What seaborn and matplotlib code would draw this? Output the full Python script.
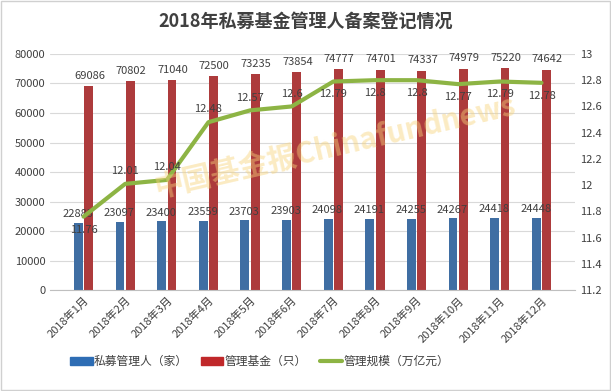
import numpy as np
import pandas as pd
import matplotlib
matplotlib.use("Agg")
import matplotlib.pyplot as plt
import seaborn as sns

months = ['2018年1月', '2018年2月', '2018年3月', '2018年4月', '2018年5月', '2018年6月',
          '2018年7月', '2018年8月', '2018年9月', '2018年10月', '2018年11月', '2018年12月']
managers = [22883, 23097, 23400, 23559, 23703, 23903, 24098, 24191, 24255, 24267, 24418, 24448]
funds = [69086, 70802, 71040, 72500, 73235, 73854, 74777, 74701, 74337, 74979, 75220, 74642]
scale = [11.76, 12.01, 12.04, 12.48, 12.57, 12.6, 12.79, 12.8, 12.8, 12.77, 12.79, 12.78]
# label above (1) or below (-1) the line point
scale_pos = [-1, 1, 1, 1, 1, 1, -1, -1, -1, -1, -1, -1]

sns.set_style("white")
plt.rcParams['font.family'] = ['Noto Sans CJK SC', 'DejaVu Sans']
txt = '#404040'

df = pd.DataFrame({
    'month': months * 2,
    'value': managers + funds,
    'series': ['私募管理人（家）'] * 12 + ['管理基金（只）'] * 12,
})

fig = plt.figure(figsize=(6.11, 3.91), dpi=100)
ax = fig.add_axes([0.082, 0.258, 0.859, 0.604])

sns.barplot(data=df, x='month', y='value', hue='series',
            palette=['#2e6db4', '#c0282a'], width=0.5, gap=0.15,
            edgecolor='none', ax=ax, legend=False)

ax.set_ylim(0, 80000)
ax.set_yticks(np.arange(0, 80001, 10000))
ax.yaxis.grid(True, color='#d9d9d9', linewidth=0.8)
ax.set_axisbelow(True)
ax.set_xlabel('')
ax.set_ylabel('')
for s in ['top', 'right', 'left']:
    ax.spines[s].set_visible(False)
ax.spines['bottom'].set_color('#bfbfbf')
ax.tick_params(axis='y', labelsize=8, colors=txt, length=0)
ax.tick_params(axis='x', labelsize=8, colors=txt, length=3, color='#bfbfbf')
ax.set_xticks(np.arange(-0.5, 12, 1), minor=True)
ax.tick_params(axis='x', which='major', length=0)
ax.tick_params(axis='x', which='minor', length=4, color='#bfbfbf')
plt.setp(ax.get_xticklabels(), rotation=45, ha='right', rotation_mode='anchor')

for i in range(12):
    ax.text(i - 0.14, managers[i] + 1200, str(managers[i]), ha='center',
            va='bottom', fontsize=8, color=txt)
    ax.text(i + 0.14, funds[i] + 1800, str(funds[i]), ha='center',
            va='bottom', fontsize=8, color=txt)

ax2 = ax.twinx()
sns.lineplot(x=np.arange(12), y=scale, color='#8db444', linewidth=3, ax=ax2)
ax2.set_ylim(11.2, 13)
ax2.set_yticks(np.round(np.arange(11.2, 13.01, 0.2), 1))
ax2.set_yticklabels(['11.2', '11.4', '11.6', '11.8', '12', '12.2', '12.4',
                     '12.6', '12.8', '13'])
ax2.tick_params(axis='y', labelsize=8, colors=txt, length=0)
for s in ['top', 'right', 'left', 'bottom']:
    ax2.spines[s].set_visible(False)
for i in range(12):
    off = 0.06 if scale_pos[i] > 0 else -0.06
    ax2.text(i, scale[i] + off, f'{scale[i]:g}', ha='center',
             va='bottom' if off > 0 else 'top', fontsize=8, color=txt)

fig.text(0.5, 0.945, '2018年私募基金管理人备案登记情况', ha='center', va='center',
         fontsize=13, fontweight='bold', color='#404040')
# watermark
fig.text(0.548, 0.625, '中国基金报Chinafundnews', ha='center', va='center',
         fontsize=21, fontweight='bold', color='#f7d37a', alpha=0.45, rotation=13)

handles = [plt.Rectangle((0, 0), 1, 1, color='#2e6db4'),
           plt.Rectangle((0, 0), 1, 1, color='#c0282a'),
           plt.Line2D([0], [0], color='#8db444', linewidth=3)]
fig.legend(handles, ['私募管理人（家）', '管理基金（只）', '管理规模（万亿元）'],
           loc='center', bbox_to_anchor=(0.425, 0.075), ncol=3, frameon=False,
           fontsize=8.5, handlelength=1.9, handleheight=0.6, handletextpad=0.1,
           columnspacing=1.1, labelcolor=txt)

fig.patches.append(plt.Rectangle((0.002, 0.002), 0.996, 0.996, transform=fig.transFigure,
                                 fill=False, edgecolor='#d0d0d0', linewidth=1))
fig.savefig('out.png', dpi=100)
